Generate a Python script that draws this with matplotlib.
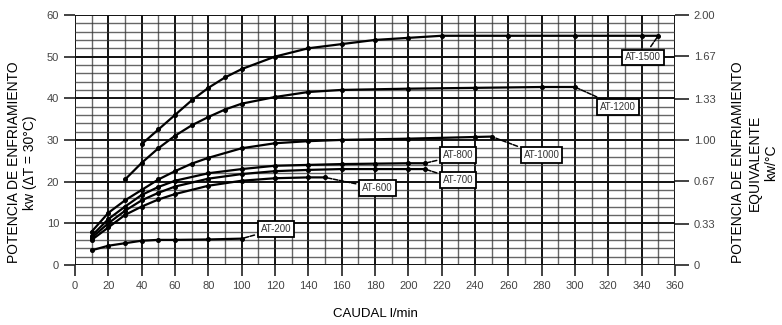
import matplotlib.pyplot as plt
from matplotlib.ticker import MultipleLocator

plt.rcParams['font.family'] = ['Liberation Sans', 'DejaVu Sans']

# caudal (l/min) vs potencia de enfriamiento (kW) for each model
x1 = [40, 50, 60, 70, 80, 90, 100, 120, 140, 160, 180, 200, 220, 260, 300, 340, 350]
y1 = [29, 32.5, 36, 39.5, 42.5, 45, 47, 50, 52, 53, 54, 54.5, 55, 55, 55, 55, 55]
x2 = [30, 40, 50, 60, 70, 80, 90, 100, 120, 140, 160, 200, 240, 280, 300]
y2 = [20.5, 24.5, 28, 31, 33.5, 35.5, 37.3, 38.7, 40.3, 41.5, 42, 42.3, 42.5, 42.7, 42.7]
x3 = [10, 20, 30, 40, 50, 60, 70, 80, 100, 120, 140, 160, 200, 240, 250]
y3 = [8, 12.5, 15.5, 18, 20.5, 22.5, 24.3, 25.7, 28, 29.2, 29.7, 30, 30.3, 30.7, 30.8]
x4 = [10, 20, 30, 40, 50, 60, 80, 100, 120, 140, 160, 180, 200, 210]
y4 = [7, 11, 14, 16.8, 18.7, 20.2, 22, 23, 23.8, 24, 24.2, 24.3, 24.4, 24.4]
x5 = [10, 20, 30, 40, 50, 60, 80, 100, 120, 140, 160, 180, 200, 210]
y5 = [6.5, 10, 13, 15.5, 17.3, 18.8, 20.7, 21.8, 22.5, 22.8, 23, 23, 23, 23]
x6 = [10, 20, 30, 40, 50, 60, 80, 100, 120, 140, 150]
y6 = [6, 9, 12, 14, 15.7, 17, 19, 20.2, 20.8, 21, 21]
x7 = [10, 20, 30, 40, 50, 60, 80, 100]
y7 = [3.5, 4.6, 5.2, 5.8, 6, 6, 6.1, 6.3]

models = ['AT-1500', 'AT-1200', 'AT-1000', 'AT-800', 'AT-700', 'AT-600', 'AT-200']
# where each model's tag box sits (l/min, kW)
tag_pos = [(341, 49.8), (326, 38), (280, 26.3), (230, 26.3),
           (230, 20.4), (181.5, 18.4), (120.6, 8.6)]

xticks = list(range(0, 361, 20))
yticks = [0, 10, 20, 30, 40, 50, 60]
rticks = [0, 0.33, 0.67, 1.00, 1.33, 1.67, 2.00]
rlabels = ['0', '0.33', '0.67', '1.00', '1.33', '1.67', '2.00']

fig = plt.figure(figsize=(7.82, 3.25), dpi=100)
ax = fig.add_axes([0.096, 0.185, 0.767, 0.769])

ax.set_xlim(0, 360)
ax.set_ylim(0, 60)
ax.xaxis.set_major_locator(MultipleLocator(20))
ax.xaxis.set_minor_locator(MultipleLocator(10))
ax.yaxis.set_major_locator(MultipleLocator(10))
ax.yaxis.set_minor_locator(MultipleLocator(2))
ax.grid(which='major', color='#111111', lw=1.4)
ax.grid(which='minor', color='#333333', lw=1.0, alpha=0.75)
ax.set_axisbelow(True)
for s in ax.spines.values():
    s.set_visible(False)

ax.set_xticks(xticks)
ax.set_yticks(yticks)
ax.tick_params(which='major', length=8, width=1.2, color='#222222',
               labelsize=8, labelcolor='#444444')
ax.tick_params(which='minor', length=0)

curves = [(x1, y1), (x2, y2), (x3, y3), (x4, y4), (x5, y5), (x6, y6), (x7, y7)]
for (xs, ys), name, pos in zip(curves, models, tag_pos):
    ax.plot(xs, ys, color='black', lw=1.6, marker='o', ms=2.6, zorder=3)
    ax.annotate(name, xy=(xs[-1], ys[-1]), xytext=pos, fontsize=7,
                ha='center', va='center', color='#333333', zorder=5,
                bbox=dict(boxstyle='square,pad=0.3', fc='white', ec='black', lw=1.3),
                arrowprops=dict(arrowstyle='-', color='black', lw=1.1,
                                linestyle=(0, (3, 1))))

ax.set_xlabel('CAUDAL l/min', fontsize=9.5, labelpad=12)

rax = ax.twinx()
rax.set_ylim(0, 2)
rax.set_yticks(rticks)
rax.set_yticklabels(rlabels)
for s in rax.spines.values():
    s.set_visible(False)
rax.tick_params(length=10, width=1.2, color='#222222', labelsize=8,
                labelcolor='#444444')

fig.text(0.028, 0.5, 'POTENCIA DE ENFRIAMIENTO\nkw (ΔT = 30°C)', rotation=90,
         ha='center', va='center', fontsize=10, multialignment='center')
fig.text(0.965, 0.5, 'POTENCIA DE ENFRIAMIENTO\nEQUIVALENTE\nkw/°C', rotation=90,
         ha='center', va='center', fontsize=10, multialignment='center')

fig.savefig('out.png', dpi=100)
